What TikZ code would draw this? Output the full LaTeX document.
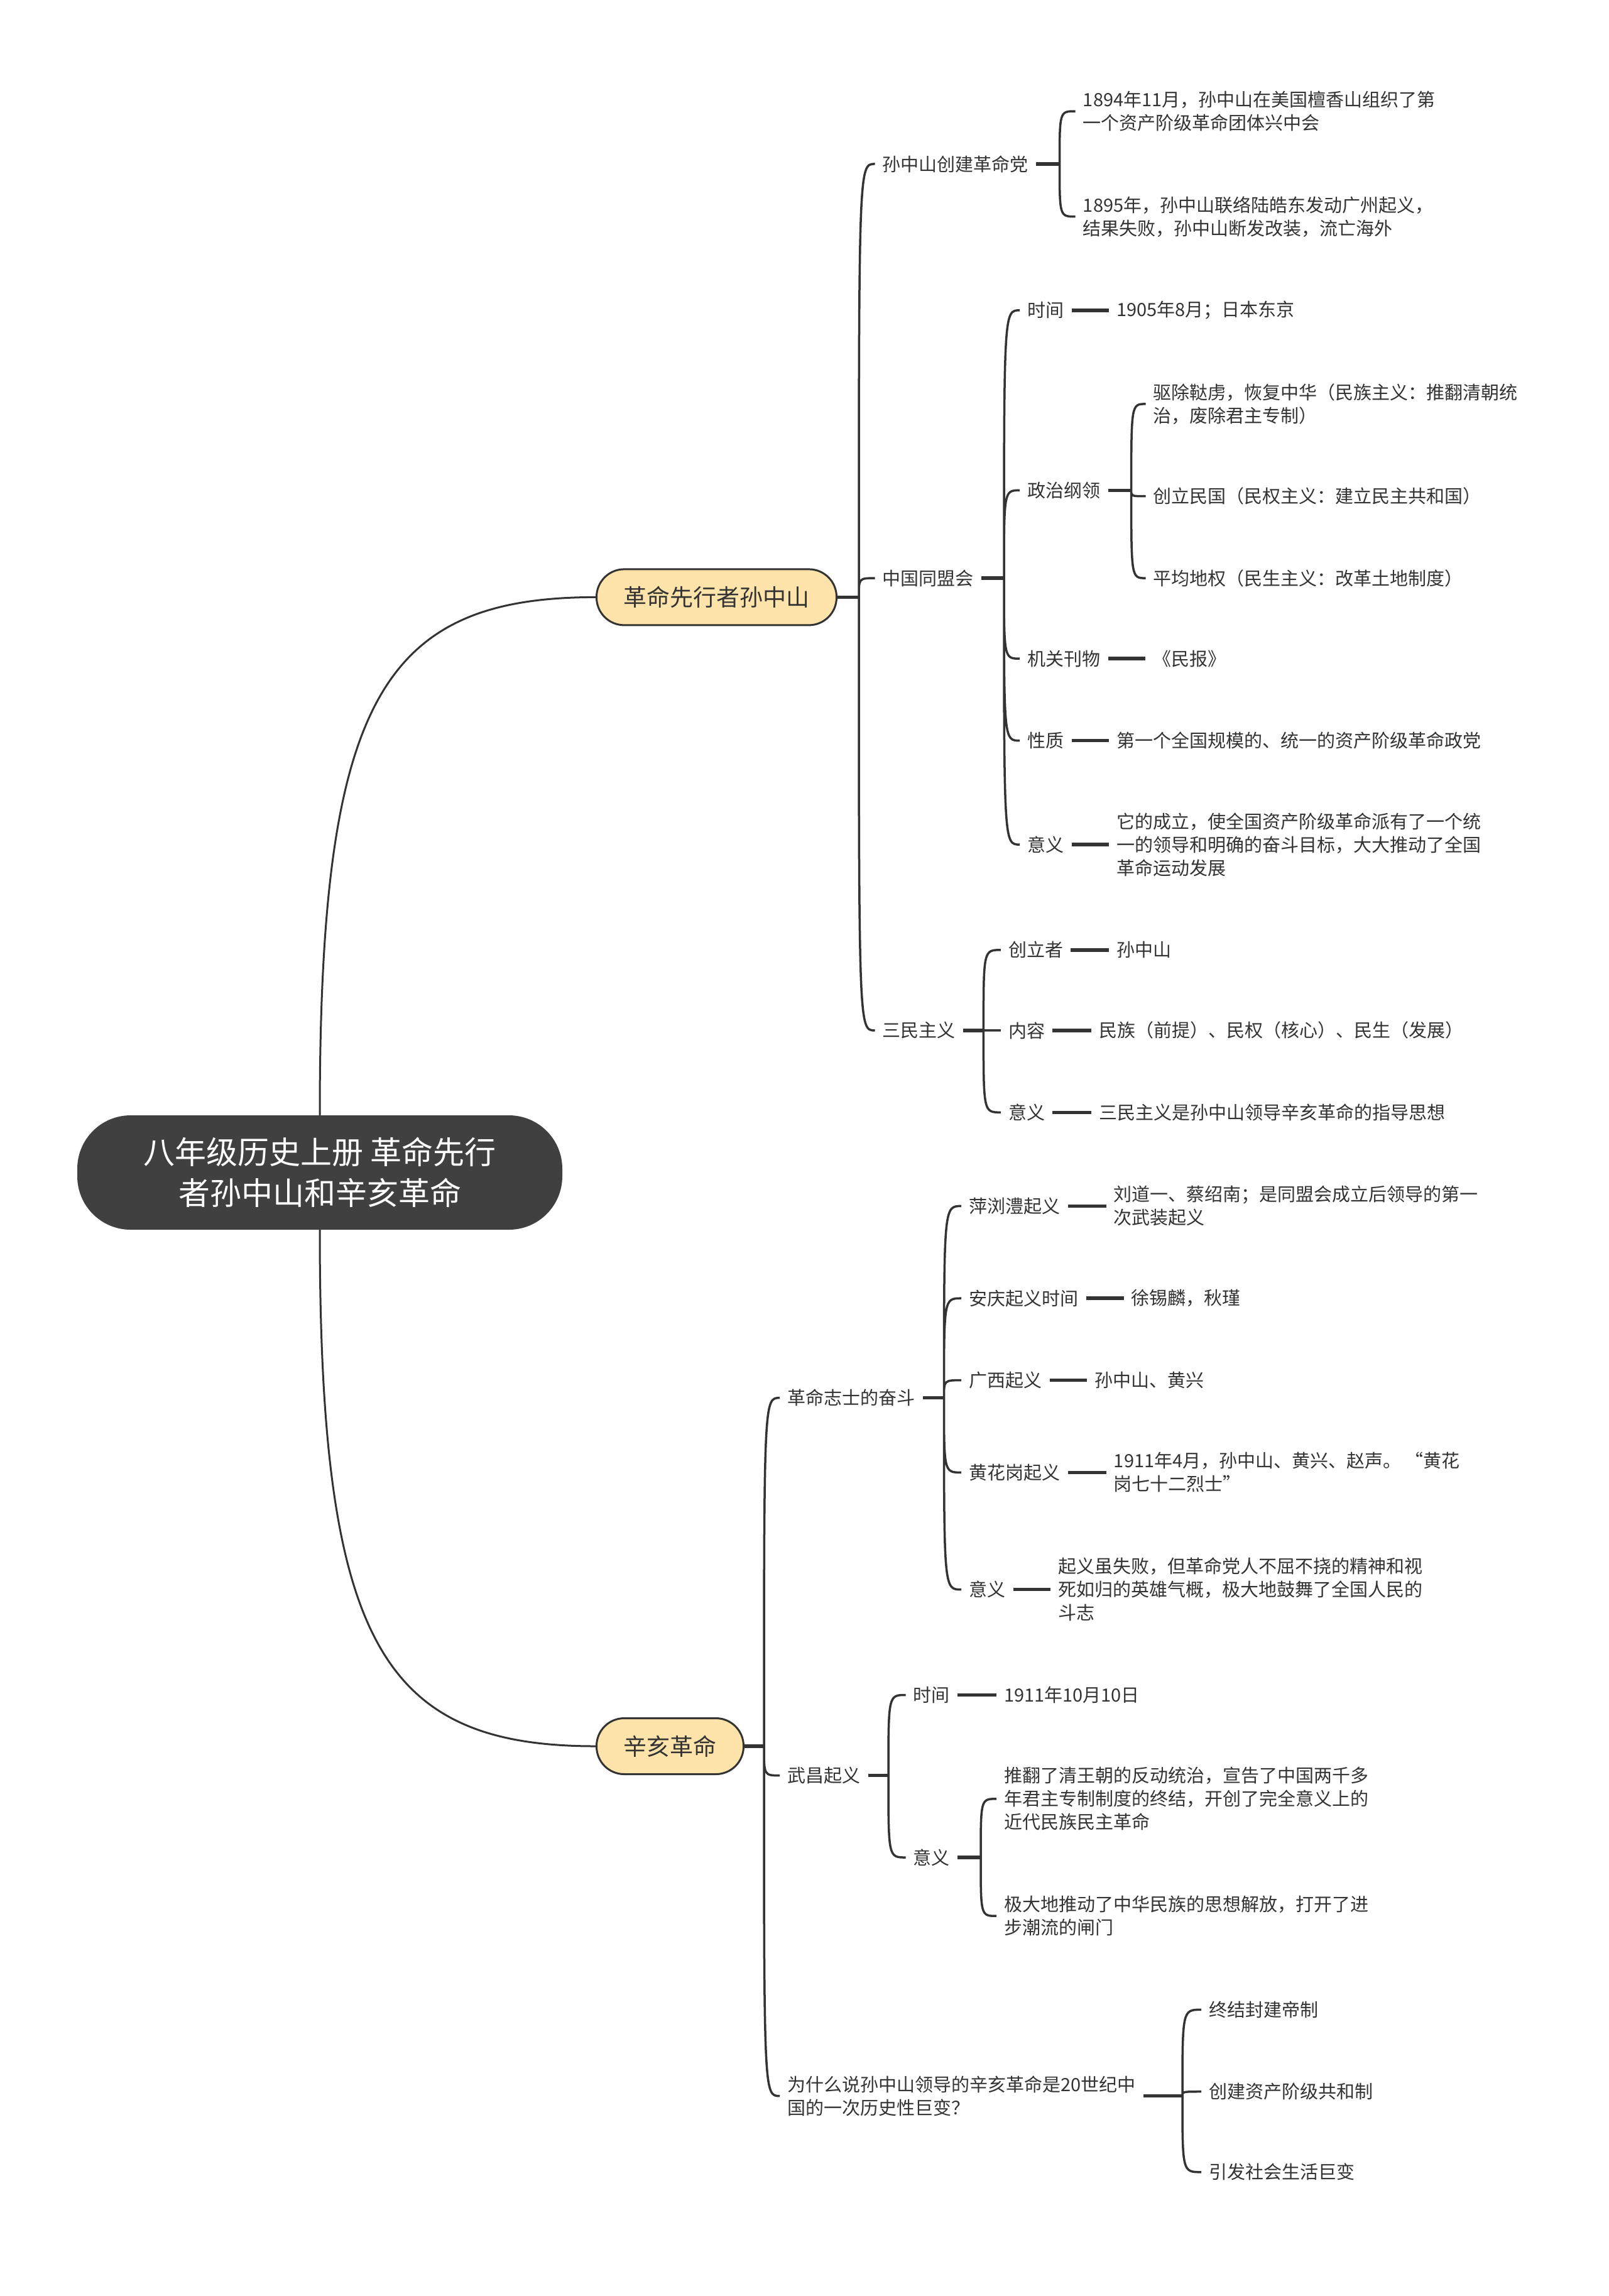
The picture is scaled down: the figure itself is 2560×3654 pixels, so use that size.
\documentclass[tikz,border=0pt]{standalone}
\usepackage{fontspec}
\setmainfont{Noto Sans CJK SC}
\definecolor{ink}{HTML}{333333}
\definecolor{rootfill}{HTML}{404040}
\definecolor{lonefill}{HTML}{FEE4AA}
\tikzset{
  txt/.style={anchor=west, xshift=-12pt, inner xsep=12pt, inner ysep=3pt, text=ink, font=\fontsize{29}{37}\selectfont, align=left},
  lone/.style={draw=ink, line width=3pt, fill=lonefill, rounded corners=44pt, minimum height=89pt, inner xsep=43pt, text=ink, font=\fontsize{37}{44}\selectfont, anchor=west},
  rootbox/.style={fill=rootfill, rounded corners=85pt, minimum width=772pt, minimum height=182pt, text=white, align=center, font=\fontsize{50}{65}\selectfont},
  curve/.style={draw=ink, line width=3pt},
  stub/.style={draw=ink, line width=5.5pt},
  kid/.style={draw=ink, line width=3.5pt, to path={.. controls (\tikztostart |- \tikztotarget) .. (\tikztotarget)}}
}
\begin{document}
\begin{tikzpicture}[x=1pt,y=-1pt]
\fill[white] (0,0) rectangle (2560,3654);
\useasboundingbox (0,0) rectangle (2560,3654);

% root and main branches
\node[rootbox] (root) at (509,1866) {八年级历史上册 革命先行\\者孙中山和辛亥革命};
\node[lone] (A) at (948,950.4) {革命先行者孙中山};
\node[lone] (B) at (948,2779) {辛亥革命};
\draw[curve] (root.north) .. controls +(0,-657) and +(-342,0) .. (A.west);
\draw[curve] (root.south) .. controls +(0,654) and +(-342,0) .. (B.west);

% ---------- top branch ----------
\coordinate (JA) at (1367,950.4);
\draw[stub] (A.east) -- (JA);
\node[txt] (n1) at (1404.6,260.9) {孙中山创建革命党};
\node[txt] (n2) at (1404.6,920.1) {中国同盟会};
\node[txt] (n3) at (1404.6,1639.9) {三民主义};
\draw[kid] (JA) to (n1.west) (JA) to (n2.west) (JA) to (n3.west);

\coordinate (J1) at (1686.5,260.9);
\draw[stub] (n1.east) -- (J1);
\node[txt] (n1a) at (1723.7,177) {1894年11月，孙中山在美国檀香山组织了第\\一个资产阶级革命团体兴中会};
\node[txt] (n1b) at (1723.7,344.7) {1895年，孙中山联络陆皓东发动广州起义，\\结果失败，孙中山断发改装，流亡海外};
\draw[kid] (J1) to (n1a.west) (J1) to (n1b.west);

\coordinate (J2) at (1598,920.1);
\draw[stub] (n2.east) -- (J2);
\node[txt] (n2a) at (1635.2,493.8) {时间};
\node[txt] (n2a1) at (1777.3,493.8) {1905年8月；日本东京};
\draw[stub] (n2a.east) -- (n2a1.west);
\node[txt] (n2b) at (1635.2,780.3) {政治纲领};
\coordinate (J2b) at (1800.6,780.3);
\draw[stub] (n2b.east) -- (J2b);
\node[txt] (n2b1) at (1835.6,642.9) {驱除鞑虏，恢复中华（民族主义：推翻清朝统\\治，废除君主专制）};
\node[txt] (n2b2) at (1835.6,789.7) {创立民国（民权主义：建立民主共和国）};
\node[txt] (n2b3) at (1835.6,920.1) {平均地权（民生主义：改革土地制度）};
\draw[kid] (J2b) to (n2b1.west) (J2b) to (n2b2.west) (J2b) to (n2b3.west);
\node[txt] (n2c) at (1635.2,1048.2) {机关刊物};
\node[txt] (n2c1) at (1835,1048.2) {《民报》};
\draw[stub] (n2c.east) -- (n2c1.west);
\node[txt] (n2d) at (1635.2,1178.7) {性质};
\node[txt] (n2d1) at (1777.3,1178.7) {第一个全国规模的、统一的资产阶级革命政党};
\draw[stub] (n2d.east) -- (n2d1.west);
\node[txt] (n2e) at (1635.2,1344.1) {意义};
\node[txt] (n2e1) at (1777.3,1344.1) {它的成立，使全国资产阶级革命派有了一个统\\一的领导和明确的奋斗目标，大大推动了全国\\革命运动发展};
\draw[stub] (n2e.east) -- (n2e1.west);
\draw[kid] (J2) to (n2a.west) (J2) to (n2b.west) (J2) to (n2c.west) (J2) to (n2d.west) (J2) to (n2e.west);

\coordinate (J3) at (1565.4,1639.9);
\draw[stub] (n3.east) -- (J3);
\node[txt] (n3a) at (1604.9,1511.8) {创立者};
\node[txt] (n3a1) at (1777.3,1511.8) {孙中山};
\draw[stub] (n3a.east) -- (n3a1.west);
\node[txt] (n3b) at (1604.9,1639.9) {内容};
\node[txt] (n3b1) at (1749.4,1639.9) {民族（前提）、民权（核心）、民生（发展）};
\draw[stub] (n3b.east) -- (n3b1.west);
\node[txt] (n3c) at (1604.9,1770.3) {意义};
\node[txt] (n3c1) at (1749.4,1770.3) {三民主义是孙中山领导辛亥革命的指导思想};
\draw[stub] (n3c.east) -- (n3c1.west);
\draw[kid] (J3) to (n3a.west) (J3) to (n3b.west) (J3) to (n3c.west);

% ---------- bottom branch ----------
\coordinate (JB) at (1216,2779);
\draw[stub] (B.east) -- (JB);
\node[txt] (m1) at (1253.2,2224.6) {革命志士的奋斗};
\node[txt] (m2) at (1253.2,2825.6) {武昌起义};
\node[txt] (m3) at (1253.2,3335.7) {为什么说孙中山领导的辛亥革命是20世纪中\\国的一次历史性巨变？};
\draw[kid] (JB) to (m1.west) (JB) to (m2.west) (JB) to (m3.west);

\coordinate (K1) at (1502.5,2224.6);
\draw[stub] (m1.east) -- (K1);
\node[txt] (m1a) at (1542.1,1919.4) {萍浏澧起义};
\node[txt] (m1a1) at (1772.7,1919.4) {刘道一、蔡绍南；是同盟会成立后领导的第一\\次武装起义};
\draw[stub] (m1a.east) -- (m1a1.west);
\node[txt] (m1b) at (1542.1,2066.2) {安庆起义时间};
\node[txt] (m1b1) at (1800.6,2066.2) {徐锡麟，秋瑾};
\draw[stub] (m1b.east) -- (m1b1.west);
\node[txt] (m1c) at (1542.1,2196.6) {广西起义};
\node[txt] (m1c1) at (1742.4,2196.6) {孙中山、黄兴};
\draw[stub] (m1c.east) -- (m1c1.west);
\node[txt] (m1d) at (1542.1,2343.4) {黄花岗起义};
\node[txt] (m1d1) at (1772.7,2343.4) {1911年4月，孙中山、黄兴、赵声。 “黄花\\岗七十二烈士”};
\draw[stub] (m1d.east) -- (m1d1.west);
\node[txt] (m1e) at (1542.1,2529.7) {意义};
\node[txt] (m1e1) at (1684.1,2529.7) {起义虽失败，但革命党人不屈不挠的精神和视\\死如归的英雄气概，极大地鼓舞了全国人民的\\斗志};
\draw[stub] (m1e.east) -- (m1e1.west);
\draw[kid] (K1) to (m1a.west) (K1) to (m1b.west) (K1) to (m1c.west) (K1) to (m1d.west) (K1) to (m1e.west);

\coordinate (K2) at (1414,2825.6);
\draw[stub] (m2.east) -- (K2);
\node[txt] (m2a) at (1453.5,2697.5) {时间};
\node[txt] (m2a1) at (1598,2697.5) {1911年10月10日};
\draw[stub] (m2a.east) -- (m2a1.west);
\node[txt] (m2b) at (1453.5,2956) {意义};
\draw[kid] (K2) to (m2a.west) (K2) to (m2b.west);
\coordinate (K2b) at (1561,2956);
\draw[stub] (m2b.east) -- (K2b);
\node[txt] (m2b1) at (1598,2862.8) {推翻了清王朝的反动统治，宣告了中国两千多\\年君主专制制度的终结，开创了完全意义上的\\近代民族民主革命};
\node[txt] (m2b2) at (1598,3049.2) {极大地推动了中华民族的思想解放，打开了进\\步潮流的闸门};
\draw[kid] (K2b) to (m2b1.west) (K2b) to (m2b2.west);

\coordinate (K3) at (1882,3335.7);
\draw[stub] (m3.east) -- (K3);
\node[txt] (m3a) at (1924.1,3198.3) {终结封建帝制};
\node[txt] (m3b) at (1924.1,3328.7) {创建资产阶级共和制};
\node[txt] (m3c) at (1924.1,3456.8) {引发社会生活巨变};
\draw[kid] (K3) to (m3a.west) (K3) to (m3b.west) (K3) to (m3c.west);
\end{tikzpicture}
\end{document}
